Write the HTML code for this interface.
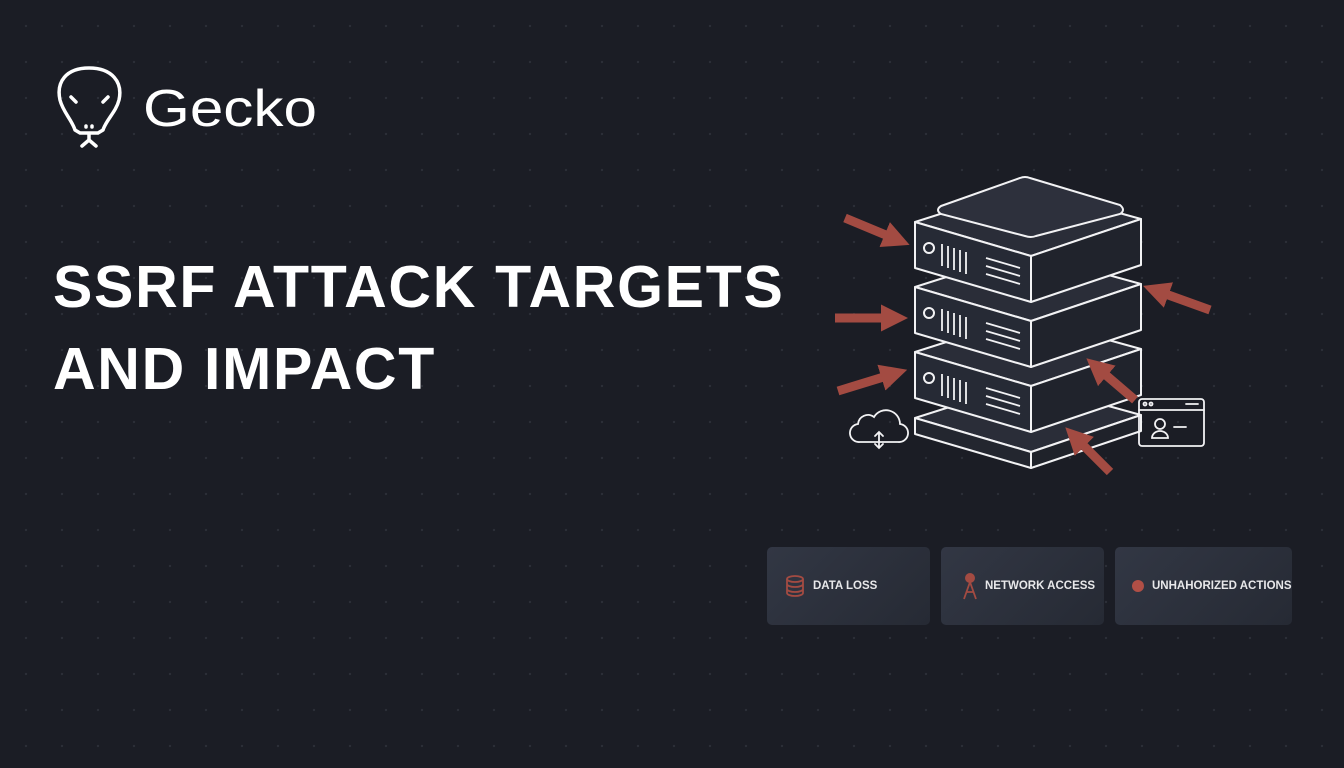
<!DOCTYPE html>
<html><head><meta charset="utf-8"><style>
html,body{margin:0;padding:0}
body{width:1344px;height:768px;overflow:hidden;background:#1b1d25;position:relative;font-family:"Liberation Sans",sans-serif;
background-image:radial-gradient(circle,#2c2f38 1px,transparent 1.3px);background-size:36px 36px;background-position:8px 8px}
.t{position:absolute;left:53px;color:#fff;font-weight:bold;font-size:59px;letter-spacing:1.7px;line-height:1}
.card{position:absolute;top:547px;height:78px;border-radius:5px;background:linear-gradient(135deg,#323744,#262a34);color:#e8e8ea;font-size:11.5px;font-weight:bold;display:flex;align-items:center;white-space:nowrap}
</style></head><body>
<svg width="1344" height="768" style="position:absolute;left:0;top:0">
<defs><marker id="a" markerWidth="3" markerHeight="3" refX="1" refY="1.5" orient="auto"><path d="M0,0L3,1.5L0,3z" fill="#a34b42"/></marker>
<g id="L" stroke="#f2f2f4" stroke-width="2" stroke-linejoin="round"><path d="M915,222L1025,187L1141,219L1031,256Z" fill="#2a2d38"/><path d="M915,222L1031,256L1031,302L915,268Z" fill="#262a35"/><path d="M1031,256L1141,219L1141,265L1031,302Z" fill="#20232c"/>
<circle cx="929" cy="248" r="5" fill="none"/><path d="M942,244v22M948,246v22M954,248v22M960,250v22M966,252v22M986,258l34,10M986,266l34,10M986,274l34,10" fill="none" stroke-width="1.8"/></g>
</defs>
<!-- logo -->
<g fill="none" stroke="#fff" stroke-width="3.5" stroke-linecap="round" stroke-linejoin="round">
<path d="M89,68 C66,68 56,82 60,100 C63,112 72,120 75,130 L80,133 L98,133 L103,130 C106,120 116,112 119,100 C123,82 112,68 89,68Z"/>
<path d="M71,97l5,5M108,97l-5,5M86,126v1M92,126v1M89,134v6M82,146l7-6 7,6"/>
</g>
<text x="143" y="126" font-size="52" fill="#fff" font-family="Liberation Sans" textLength="174" lengthAdjust="spacingAndGlyphs">Gecko</text>
<!-- server -->
<g stroke="#f2f2f4" stroke-width="2" stroke-linejoin="round">
<g transform="translate(0,196)"><path d="M915,222L1025,187L1141,219L1031,256Z" fill="#2a2d38"/><path d="M915,222L1031,256L1031,272L915,238Z" fill="#23262f"/><path d="M1031,256L1141,219L1141,235L1031,272Z" fill="#1f222a"/></g>
</g>
<use href="#L" transform="translate(0,130)"/>
<use href="#L" transform="translate(0,65)"/>
<use href="#L"/>
<path d="M941,206L1020,178Q1025,176 1030,178L1120,205Q1126,210 1120,214L1036,236Q1031,238 1025,236L941,214Q935,210 941,206Z" fill="#2d303c" stroke="#f2f2f4" stroke-width="2"/>
<!-- arrows -->
<g stroke="#a34b42" stroke-width="9" marker-end="url(#a)" fill="none">
<path d="M845,218L893,238"/><path d="M835,318L890,318"/><path d="M838,391L890,375"/>
<path d="M1210,310L1160,292"/><path d="M1135,400L1100,370"/><path d="M1110,472L1078,440"/>
</g>
<!-- cloud -->
<g fill="none" stroke="#f2f2f4" stroke-width="1.8" stroke-linecap="round">
<path d="M860,442a9,9 0 0 1 -2,-18a10,10 0 0 1 16,-7a14,14 0 0 1 26,7a9,9 0 0 1 -2,18Z"/>
<path d="M879,432v16M875,436l4,-4 4,4M875,444l4,4 4,-4"/>
<rect x="1139" y="399" width="65" height="47" rx="3"/><path d="M1139,410h65"/>
<circle cx="1145" cy="404" r="1.5"/><circle cx="1151" cy="404" r="1.5"/><path d="M1186,404h12"/>
<circle cx="1160" cy="424" r="5"/><path d="M1152,438a8,7 0 0 1 16,0Z"/><path d="M1174,427h12"/>
</g>
</svg>
<div class="t" style="top:258px">SSRF ATTACK TARGETS</div>
<div class="t" style="top:340px">AND IMPACT</div>
<div class="card" style="left:767px;width:163px"><svg width="20" height="24" style="margin:0 8px 0 18px"><g fill="none" stroke="#a34b42" stroke-width="1.8"><ellipse cx="10" cy="5" rx="8" ry="3"/><path d="M2,5v14a8,3 0 0 0 16,0V5M2,10a8,3 0 0 0 16,0M2,15a8,3 0 0 0 16,0"/></g></svg>DATA LOSS</div>
<div class="card" style="left:941px;width:163px"><svg width="16" height="28" style="margin:0 7px 0 21px"><circle cx="8" cy="6" r="5" fill="#a34b42"/><path d="M8,10L2,27M8,10L14,27M5,20h6" stroke="#a34b42" stroke-width="1.8" fill="none"/></svg>NETWORK ACCESS</div>
<div class="card" style="left:1115px;width:177px"><span style="display:inline-block;width:12px;height:12px;border-radius:50%;background:#b04f46;margin:0 8px 0 17px"></span>UNHAHORIZED ACTIONS</div>
</body></html>
